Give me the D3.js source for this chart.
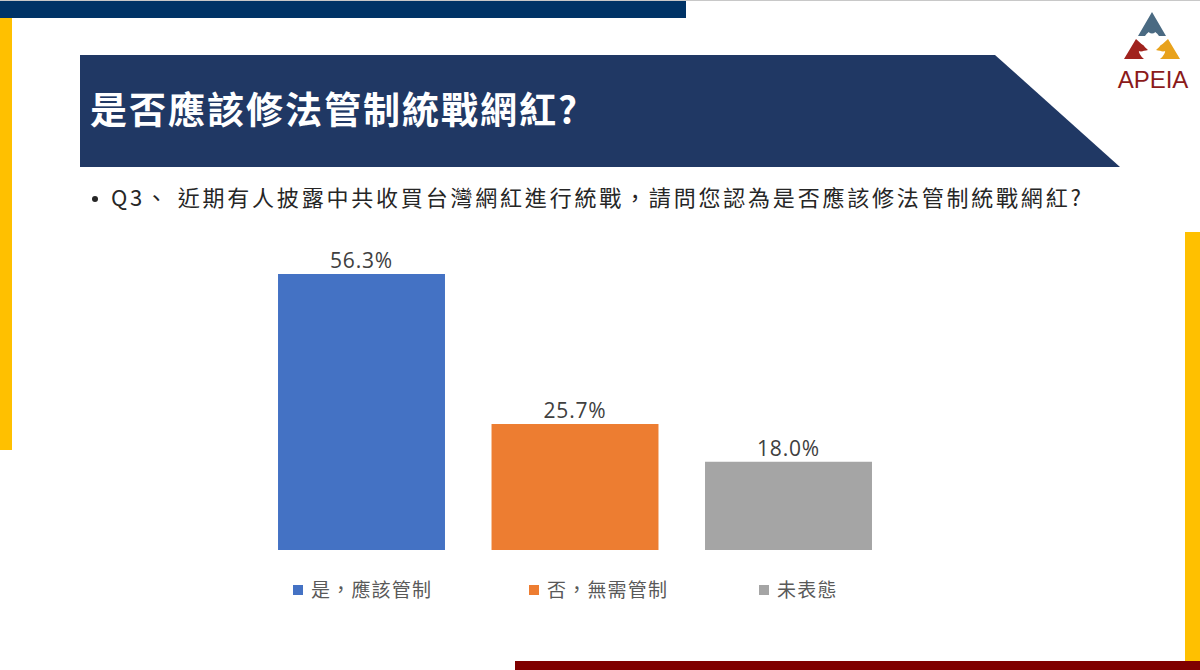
<!DOCTYPE html>
<html><head><meta charset="utf-8">
<script src="https://cdn.jsdelivr.net/npm/d3@7"></script>
<style>
html,body{margin:0;padding:0;background:#fff;}
svg{display:block;font-family:"Noto Sans CJK TC","Noto Sans",sans-serif;}
</style></head>
<body>
<svg id="chart" width="1200" height="670"></svg>
<script>
const categories = ["是，應該管制", "否，無需管制", "未表態"];
const values = [56.3, 25.7, 18.0];
const valueLabels = ["56.3%", "25.7%", "18.0%"];
const colors = ["#4472C4", "#ED7D31", "#A5A5A5"];
const title = "是否應該修法管制統戰網紅?";
const question = "Q3、 近期有人披露中共收買台灣網紅進行統戰，請問您認為是否應該修法管制統戰網紅?";

const svg = d3.select("#chart");

// decorative frame
svg.append("rect").attr("x",0).attr("y",0).attr("width",1200).attr("height",1).attr("fill","#c8c8c8");
svg.append("rect").attr("x",0).attr("y",1).attr("width",686).attr("height",17).attr("fill","#003366");
svg.append("rect").attr("x",0).attr("y",18).attr("width",12).attr("height",432).attr("fill","#FFC000");
svg.append("rect").attr("x",1185).attr("y",232).attr("width",15).attr("height",430).attr("fill","#FFC000");
svg.append("rect").attr("x",515).attr("y",661).attr("width",685).attr("height",9).attr("fill","#7F0000");

// title banner
svg.append("path").attr("d","M80,55 L995,55 L1120,167 L80,167 Z").attr("fill","#203864");
svg.append("text").attr("x",90).attr("y",124).attr("fill","#fff")
  .attr("font-size",37).attr("font-weight","bold").attr("letter-spacing",2).text(title);

// logo
const logo = svg.append("g").attr("transform","translate(1152,12)");
logo.append("path").attr("d","M0,0 L-14,24 L-7,24 Q0,14 7,24 L14,24 Z").attr("fill","#4a6a82");
logo.append("circle").attr("cx",0).attr("cy",18).attr("r",3.5).attr("fill","#4a6a82");
logo.append("path").attr("d","M-16,27 L-28,47 L-8,47 Q-14,42 -13,37 Q-9,40 -4,38 Z").attr("fill","#a0231e");
logo.append("circle").attr("cx",-11).attr("cy",36).attr("r",3.5).attr("fill","#a0231e");
logo.append("path").attr("d","M16,27 L28,47 L8,47 Q14,42 13,37 Q9,40 4,38 Z").attr("fill","#e8a21c");
logo.append("circle").attr("cx",11).attr("cy",36).attr("r",3.5).attr("fill","#e8a21c");
logo.append("text").attr("x",1).attr("y",76).attr("text-anchor","middle")
  .attr("font-family","'Liberation Sans',sans-serif").attr("font-size",24).attr("fill","#8B1A1A").text("APEIA");

// question
svg.append("circle").attr("cx",95).attr("cy",199).attr("r",3).attr("fill","#262626");
svg.append("text").attr("x",111).attr("y",206).attr("fill","#262626").attr("font-size",22)
  .attr("letter-spacing",2.8).text(question);

// chart
const x = d3.scaleBand().domain(categories).range([254.75, 895.25]).paddingInner(0.218).paddingOuter(0.109);
const y = d3.scaleLinear().domain([0, 56.3]).range([550, 274]);

svg.append("g").selectAll("rect").data(values).join("rect")
  .attr("x",(d,i)=>x(categories[i])).attr("y",d=>y(d))
  .attr("width",x.bandwidth()).attr("height",d=>y(0)-y(d))
  .attr("fill",(d,i)=>colors[i]);

svg.append("g").selectAll("text").data(values).join("text")
  .attr("x",(d,i)=>x(categories[i])+x.bandwidth()/2).attr("y",d=>y(d)-6)
  .attr("text-anchor","middle").attr("font-size",21).attr("fill","#404040")
  .attr("letter-spacing",0.8)
  .attr("font-family","'Open Sans','Noto Sans',sans-serif")
  .text((d,i)=>valueLabels[i]);

// legend
const legendX = [293, 529, 759];
const lg = svg.append("g").selectAll("g").data(categories).join("g")
  .attr("transform",(d,i)=>`translate(${legendX[i]},585)`);
lg.append("rect").attr("width",10).attr("height",10).attr("fill",(d,i)=>colors[i]);
lg.append("text").attr("x",18).attr("y",12).attr("font-size",19).attr("letter-spacing",1.2)
  .attr("fill","#595959").text(d=>d);
</script>
</body></html>
